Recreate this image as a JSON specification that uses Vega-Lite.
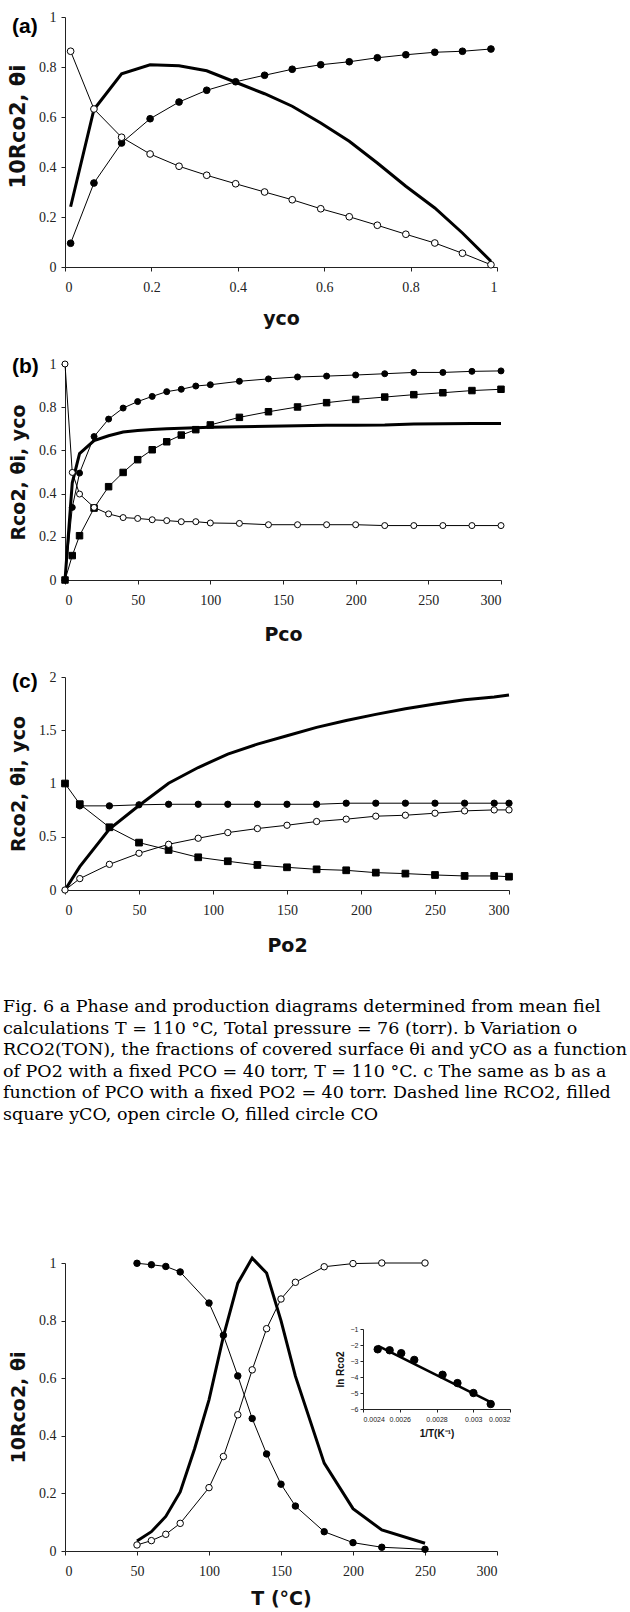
{
  "$schema": "https://vega.github.io/schema/vega-lite/v6.json",
  "autosize": {"type": "pad"},
  "padding": {"left": 3, "top": 10, "right": 0, "bottom": 0},
  "background": "white",
  "spacing": 97,
  "bounds": "flush",
  "config": {
    "view": {"stroke": null},
    "axis": {"grid": false, "domainColor": "#222", "tickColor": "#222", "labelColor": "#222", "labelFont": "Liberation Sans Narrow", "labelFontSize": 14, "titleFont": "DejaVu Sans", "titleFontSize": 19, "titleFontWeight": "bold", "titleColor": "#111", "tickSize": 4, "labelPadding": 5, "titlePadding": 10},
    "axisX": {"labelPadding": 9}
  },
  "datasets": {
    "a": [
      {"s": "CO", "x": 0.013, "y": 0.095}, {"s": "CO", "x": 0.067, "y": 0.336}, {"s": "CO", "x": 0.131, "y": 0.496}, {"s": "CO", "x": 0.197, "y": 0.593}, {"s": "CO", "x": 0.264, "y": 0.66}, {"s": "CO", "x": 0.328, "y": 0.707}, {"s": "CO", "x": 0.395, "y": 0.741}, {"s": "CO", "x": 0.462, "y": 0.767}, {"s": "CO", "x": 0.526, "y": 0.791}, {"s": "CO", "x": 0.592, "y": 0.809}, {"s": "CO", "x": 0.658, "y": 0.821}, {"s": "CO", "x": 0.723, "y": 0.837}, {"s": "CO", "x": 0.789, "y": 0.849}, {"s": "CO", "x": 0.856, "y": 0.859}, {"s": "CO", "x": 0.92, "y": 0.863}, {"s": "CO", "x": 0.986, "y": 0.872},
      {"s": "O", "x": 0.013, "y": 0.863}, {"s": "O", "x": 0.067, "y": 0.632}, {"s": "O", "x": 0.131, "y": 0.519}, {"s": "O", "x": 0.197, "y": 0.452}, {"s": "O", "x": 0.264, "y": 0.403}, {"s": "O", "x": 0.328, "y": 0.367}, {"s": "O", "x": 0.395, "y": 0.333}, {"s": "O", "x": 0.462, "y": 0.3}, {"s": "O", "x": 0.526, "y": 0.269}, {"s": "O", "x": 0.592, "y": 0.233}, {"s": "O", "x": 0.658, "y": 0.201}, {"s": "O", "x": 0.723, "y": 0.167}, {"s": "O", "x": 0.789, "y": 0.131}, {"s": "O", "x": 0.856, "y": 0.096}, {"s": "O", "x": 0.92, "y": 0.055}, {"s": "O", "x": 0.986, "y": 0.009},
      {"s": "R", "x": 0.013, "y": 0.241}, {"s": "R", "x": 0.067, "y": 0.63}, {"s": "R", "x": 0.131, "y": 0.773}, {"s": "R", "x": 0.197, "y": 0.809}, {"s": "R", "x": 0.264, "y": 0.805}, {"s": "R", "x": 0.328, "y": 0.785}, {"s": "R", "x": 0.395, "y": 0.739}, {"s": "R", "x": 0.462, "y": 0.693}, {"s": "R", "x": 0.526, "y": 0.643}, {"s": "R", "x": 0.592, "y": 0.576}, {"s": "R", "x": 0.658, "y": 0.503}, {"s": "R", "x": 0.723, "y": 0.416}, {"s": "R", "x": 0.789, "y": 0.323}, {"s": "R", "x": 0.856, "y": 0.236}, {"s": "R", "x": 0.92, "y": 0.136}, {"s": "R", "x": 0.986, "y": 0.023}
    ],
    "b": [
      {"s": "CO", "x": 0, "y": 0}, {"s": "CO", "x": 5, "y": 0.336}, {"s": "CO", "x": 10, "y": 0.495}, {"s": "CO", "x": 20, "y": 0.664}, {"s": "CO", "x": 30, "y": 0.745}, {"s": "CO", "x": 40, "y": 0.796}, {"s": "CO", "x": 50, "y": 0.826}, {"s": "CO", "x": 60, "y": 0.85}, {"s": "CO", "x": 70, "y": 0.872}, {"s": "CO", "x": 80, "y": 0.883}, {"s": "CO", "x": 90, "y": 0.898}, {"s": "CO", "x": 100, "y": 0.904}, {"s": "CO", "x": 120, "y": 0.92}, {"s": "CO", "x": 140, "y": 0.931}, {"s": "CO", "x": 160, "y": 0.94}, {"s": "CO", "x": 180, "y": 0.944}, {"s": "CO", "x": 200, "y": 0.949}, {"s": "CO", "x": 220, "y": 0.955}, {"s": "CO", "x": 240, "y": 0.961}, {"s": "CO", "x": 260, "y": 0.961}, {"s": "CO", "x": 280, "y": 0.966}, {"s": "CO", "x": 300, "y": 0.968},
      {"s": "Y", "x": 0, "y": 0}, {"s": "Y", "x": 5, "y": 0.113}, {"s": "Y", "x": 10, "y": 0.205}, {"s": "Y", "x": 20, "y": 0.333}, {"s": "Y", "x": 30, "y": 0.432}, {"s": "Y", "x": 40, "y": 0.498}, {"s": "Y", "x": 50, "y": 0.557}, {"s": "Y", "x": 60, "y": 0.603}, {"s": "Y", "x": 70, "y": 0.64}, {"s": "Y", "x": 80, "y": 0.671}, {"s": "Y", "x": 90, "y": 0.696}, {"s": "Y", "x": 100, "y": 0.718}, {"s": "Y", "x": 120, "y": 0.753}, {"s": "Y", "x": 140, "y": 0.779}, {"s": "Y", "x": 160, "y": 0.801}, {"s": "Y", "x": 180, "y": 0.821}, {"s": "Y", "x": 200, "y": 0.836}, {"s": "Y", "x": 220, "y": 0.847}, {"s": "Y", "x": 240, "y": 0.858}, {"s": "Y", "x": 260, "y": 0.867}, {"s": "Y", "x": 280, "y": 0.877}, {"s": "Y", "x": 300, "y": 0.883},
      {"s": "O", "x": 0, "y": 1.0}, {"s": "O", "x": 5, "y": 0.498}, {"s": "O", "x": 10, "y": 0.398}, {"s": "O", "x": 20, "y": 0.336}, {"s": "O", "x": 30, "y": 0.306}, {"s": "O", "x": 40, "y": 0.289}, {"s": "O", "x": 50, "y": 0.285}, {"s": "O", "x": 60, "y": 0.279}, {"s": "O", "x": 70, "y": 0.275}, {"s": "O", "x": 80, "y": 0.27}, {"s": "O", "x": 90, "y": 0.27}, {"s": "O", "x": 100, "y": 0.264}, {"s": "O", "x": 120, "y": 0.262}, {"s": "O", "x": 140, "y": 0.256}, {"s": "O", "x": 160, "y": 0.256}, {"s": "O", "x": 180, "y": 0.256}, {"s": "O", "x": 200, "y": 0.256}, {"s": "O", "x": 220, "y": 0.252}, {"s": "O", "x": 240, "y": 0.252}, {"s": "O", "x": 260, "y": 0.252}, {"s": "O", "x": 280, "y": 0.252}, {"s": "O", "x": 300, "y": 0.252},
      {"s": "R", "x": 0, "y": 0}, {"s": "R", "x": 5, "y": 0.45}, {"s": "R", "x": 10, "y": 0.585}, {"s": "R", "x": 20, "y": 0.645}, {"s": "R", "x": 30, "y": 0.668}, {"s": "R", "x": 40, "y": 0.685}, {"s": "R", "x": 50, "y": 0.692}, {"s": "R", "x": 60, "y": 0.697}, {"s": "R", "x": 70, "y": 0.7}, {"s": "R", "x": 80, "y": 0.703}, {"s": "R", "x": 90, "y": 0.705}, {"s": "R", "x": 100, "y": 0.707}, {"s": "R", "x": 120, "y": 0.71}, {"s": "R", "x": 140, "y": 0.712}, {"s": "R", "x": 160, "y": 0.714}, {"s": "R", "x": 180, "y": 0.716}, {"s": "R", "x": 200, "y": 0.717}, {"s": "R", "x": 220, "y": 0.718}, {"s": "R", "x": 240, "y": 0.722}, {"s": "R", "x": 260, "y": 0.723}, {"s": "R", "x": 280, "y": 0.724}, {"s": "R", "x": 300, "y": 0.724}
    ],
    "c": [
      {"s": "CO", "x": 10, "y": 0.79}, {"s": "CO", "x": 30, "y": 0.79}, {"s": "CO", "x": 50, "y": 0.8}, {"s": "CO", "x": 70, "y": 0.805}, {"s": "CO", "x": 90, "y": 0.805}, {"s": "CO", "x": 110, "y": 0.805}, {"s": "CO", "x": 130, "y": 0.805}, {"s": "CO", "x": 150, "y": 0.805}, {"s": "CO", "x": 170, "y": 0.805}, {"s": "CO", "x": 190, "y": 0.815}, {"s": "CO", "x": 210, "y": 0.815}, {"s": "CO", "x": 230, "y": 0.815}, {"s": "CO", "x": 250, "y": 0.815}, {"s": "CO", "x": 270, "y": 0.815}, {"s": "CO", "x": 290, "y": 0.815}, {"s": "CO", "x": 300, "y": 0.815},
      {"s": "Y", "x": 0, "y": 1.0}, {"s": "Y", "x": 10, "y": 0.806}, {"s": "Y", "x": 30, "y": 0.589}, {"s": "Y", "x": 50, "y": 0.445}, {"s": "Y", "x": 70, "y": 0.376}, {"s": "Y", "x": 90, "y": 0.307}, {"s": "Y", "x": 110, "y": 0.27}, {"s": "Y", "x": 130, "y": 0.235}, {"s": "Y", "x": 150, "y": 0.213}, {"s": "Y", "x": 170, "y": 0.194}, {"s": "Y", "x": 190, "y": 0.185}, {"s": "Y", "x": 210, "y": 0.163}, {"s": "Y", "x": 230, "y": 0.154}, {"s": "Y", "x": 250, "y": 0.141}, {"s": "Y", "x": 270, "y": 0.132}, {"s": "Y", "x": 290, "y": 0.132}, {"s": "Y", "x": 300, "y": 0.125},
      {"s": "O", "x": 0, "y": 0}, {"s": "O", "x": 10, "y": 0.107}, {"s": "O", "x": 30, "y": 0.241}, {"s": "O", "x": 50, "y": 0.345}, {"s": "O", "x": 70, "y": 0.429}, {"s": "O", "x": 90, "y": 0.486}, {"s": "O", "x": 110, "y": 0.539}, {"s": "O", "x": 130, "y": 0.577}, {"s": "O", "x": 150, "y": 0.608}, {"s": "O", "x": 170, "y": 0.643}, {"s": "O", "x": 190, "y": 0.665}, {"s": "O", "x": 210, "y": 0.693}, {"s": "O", "x": 230, "y": 0.702}, {"s": "O", "x": 250, "y": 0.721}, {"s": "O", "x": 270, "y": 0.743}, {"s": "O", "x": 290, "y": 0.752}, {"s": "O", "x": 300, "y": 0.752},
      {"s": "R", "x": 0, "y": 0}, {"s": "R", "x": 10, "y": 0.219}, {"s": "R", "x": 30, "y": 0.571}, {"s": "R", "x": 50, "y": 0.793}, {"s": "R", "x": 70, "y": 1.003}, {"s": "R", "x": 90, "y": 1.15}, {"s": "R", "x": 110, "y": 1.276}, {"s": "R", "x": 130, "y": 1.37}, {"s": "R", "x": 150, "y": 1.448}, {"s": "R", "x": 170, "y": 1.527}, {"s": "R", "x": 190, "y": 1.592}, {"s": "R", "x": 210, "y": 1.649}, {"s": "R", "x": 230, "y": 1.702}, {"s": "R", "x": 250, "y": 1.746}, {"s": "R", "x": 270, "y": 1.787}, {"s": "R", "x": 290, "y": 1.812}, {"s": "R", "x": 300, "y": 1.831}
    ],
    "d": [
      {"s": "CO", "x": 50, "y": 0.999}, {"s": "CO", "x": 60, "y": 0.994}, {"s": "CO", "x": 70, "y": 0.988}, {"s": "CO", "x": 80, "y": 0.969}, {"s": "CO", "x": 100, "y": 0.861}, {"s": "CO", "x": 110, "y": 0.749}, {"s": "CO", "x": 120, "y": 0.608}, {"s": "CO", "x": 130, "y": 0.46}, {"s": "CO", "x": 140, "y": 0.337}, {"s": "CO", "x": 150, "y": 0.232}, {"s": "CO", "x": 160, "y": 0.156}, {"s": "CO", "x": 180, "y": 0.067}, {"s": "CO", "x": 200, "y": 0.029}, {"s": "CO", "x": 220, "y": 0.013}, {"s": "CO", "x": 250, "y": 0.006},
      {"s": "O", "x": 50, "y": 0.021}, {"s": "O", "x": 60, "y": 0.036}, {"s": "O", "x": 70, "y": 0.058}, {"s": "O", "x": 80, "y": 0.096}, {"s": "O", "x": 100, "y": 0.22}, {"s": "O", "x": 110, "y": 0.328}, {"s": "O", "x": 120, "y": 0.473}, {"s": "O", "x": 130, "y": 0.629}, {"s": "O", "x": 140, "y": 0.772}, {"s": "O", "x": 150, "y": 0.875}, {"s": "O", "x": 160, "y": 0.933}, {"s": "O", "x": 180, "y": 0.987}, {"s": "O", "x": 200, "y": 0.998}, {"s": "O", "x": 220, "y": 1.0}, {"s": "O", "x": 250, "y": 1.0},
      {"s": "R", "x": 50, "y": 0.035}, {"s": "R", "x": 60, "y": 0.067}, {"s": "R", "x": 70, "y": 0.12}, {"s": "R", "x": 80, "y": 0.205}, {"s": "R", "x": 90, "y": 0.355}, {"s": "R", "x": 100, "y": 0.525}, {"s": "R", "x": 110, "y": 0.745}, {"s": "R", "x": 120, "y": 0.93}, {"s": "R", "x": 130, "y": 1.017}, {"s": "R", "x": 140, "y": 0.965}, {"s": "R", "x": 150, "y": 0.8}, {"s": "R", "x": 160, "y": 0.607}, {"s": "R", "x": 180, "y": 0.305}, {"s": "R", "x": 200, "y": 0.147}, {"s": "R", "x": 220, "y": 0.073}, {"s": "R", "x": 250, "y": 0.027}
    ],
    "ins": [
      {"s": "pt", "ix": 0.00248, "iy": -2.27}, {"s": "pt", "ix": 0.002545, "iy": -2.33}, {"s": "pt", "ix": 0.002608, "iy": -2.51}, {"s": "pt", "ix": 0.002679, "iy": -2.93}, {"s": "pt", "ix": 0.002833, "iy": -3.86}, {"s": "pt", "ix": 0.002914, "iy": -4.38}, {"s": "pt", "ix": 0.003001, "iy": -5.0}, {"s": "pt", "ix": 0.003095, "iy": -5.69},
      {"s": "fit", "ix": 0.002482, "iy": -2.05}, {"s": "fit", "ix": 0.0031, "iy": -5.6}
    ]
  },
  "vconcat": [
    {
      "width": 432, "height": 250,
      "title": {"text": "(a)", "anchor": "start", "frame": "group", "orient": "top", "offset": 0, "dx": -53, "dy": 44, "baseline": "alphabetic", "font": "Liberation Sans", "fontSize": 21, "fontWeight": "bold", "color": "black"},
      "data": {"name": "a"},
      "encoding": {
        "x": {"field": "x", "type": "quantitative", "scale": {"domain": [0, 1], "nice": false, "zero": false}, "axis": {"title": "yᴄᴏ", "values": [0, 0.2, 0.4, 0.6, 0.8, 1], "format": "~r", "titlePadding": 15}},
        "y": {"field": "y", "type": "quantitative", "scale": {"domain": [0, 1], "nice": false}, "axis": {"title": "10Rᴄᴏ2, θi", "titleFontSize": 21, "values": [0, 0.2, 0.4, 0.6, 0.8, 1], "format": "~r", "titleY": 109}}
      },
      "layer": [
        {"transform": [{"filter": "datum.s == 'R'"}], "mark": {"type": "line", "color": "black", "strokeWidth": 3}},
        {"transform": [{"filter": "datum.s != 'R'"}], "mark": {"type": "line", "color": "black", "strokeWidth": 1}, "encoding": {"detail": {"field": "s"}}},
        {"transform": [{"filter": "datum.s == 'CO'"}], "mark": {"type": "point", "shape": "circle", "filled": true, "fill": "black", "stroke": "black", "strokeWidth": 1, "size": 45, "opacity": 1}},
        {"transform": [{"filter": "datum.s == 'O'"}], "mark": {"type": "point", "shape": "circle", "filled": true, "fill": "white", "stroke": "black", "strokeWidth": 1, "size": 45, "opacity": 1}}
      ]
    },
    {
      "width": 436, "height": 216,
      "title": {"text": "(b)", "anchor": "start", "frame": "group", "orient": "top", "offset": 0, "dx": -53, "dy": 37, "baseline": "alphabetic", "font": "Liberation Sans", "fontSize": 21, "fontWeight": "bold", "color": "black"},
      "data": {"name": "b"},
      "encoding": {
        "x": {"field": "x", "type": "quantitative", "scale": {"domain": [0, 300], "nice": false, "zero": false}, "axis": {"title": "Pᴄᴏ", "values": [0, 50, 100, 150, 200, 250, 300], "format": "~r", "titlePadding": 18}},
        "y": {"field": "y", "type": "quantitative", "scale": {"domain": [0, 1], "nice": false}, "axis": {"title": "Rᴄᴏ2, θi, yᴄᴏ", "values": [0, 0.2, 0.4, 0.6, 0.8, 1], "format": "~r"}}
      },
      "layer": [
        {"transform": [{"filter": "datum.s == 'R'"}], "mark": {"type": "line", "color": "black", "strokeWidth": 3}},
        {"transform": [{"filter": "datum.s != 'R'"}], "mark": {"type": "line", "color": "black", "strokeWidth": 1}, "encoding": {"detail": {"field": "s"}}},
        {"transform": [{"filter": "datum.s == 'CO'"}], "mark": {"type": "point", "shape": "circle", "filled": true, "fill": "black", "stroke": "black", "strokeWidth": 1, "size": 36, "opacity": 1}},
        {"transform": [{"filter": "datum.s == 'Y'"}], "mark": {"type": "point", "shape": "square", "filled": true, "fill": "black", "stroke": "black", "strokeWidth": 1, "size": 42, "opacity": 1}},
        {"transform": [{"filter": "datum.s == 'O'"}], "mark": {"type": "point", "shape": "circle", "filled": true, "fill": "white", "stroke": "black", "strokeWidth": 1, "size": 36, "opacity": 1}}
      ]
    },
    {
      "width": 444, "height": 213,
      "title": {"text": "(c)", "anchor": "start", "frame": "group", "orient": "top", "offset": 0, "dx": -53, "dy": 39, "baseline": "alphabetic", "font": "Liberation Sans", "fontSize": 21, "fontWeight": "bold", "color": "black"},
      "data": {"name": "c"},
      "encoding": {
        "x": {"field": "x", "type": "quantitative", "scale": {"domain": [0, 300], "nice": false, "zero": false}, "axis": {"title": "Pᴏ2", "values": [0, 50, 100, 150, 200, 250, 300], "format": "~r", "titlePadding": 19}},
        "y": {"field": "y", "type": "quantitative", "scale": {"domain": [0, 2], "nice": false}, "axis": {"title": "Rᴄᴏ2, θi, yᴄᴏ", "values": [0, 0.5, 1, 1.5, 2], "format": "~r"}}
      },
      "layer": [
        {"transform": [{"filter": "datum.s == 'R'"}], "mark": {"type": "line", "color": "black", "strokeWidth": 3}},
        {"transform": [{"filter": "datum.s != 'R'"}], "mark": {"type": "line", "color": "black", "strokeWidth": 1}, "encoding": {"detail": {"field": "s"}}},
        {"transform": [{"filter": "datum.s == 'CO'"}], "mark": {"type": "point", "shape": "circle", "filled": true, "fill": "black", "stroke": "black", "strokeWidth": 1, "size": 40, "opacity": 1}},
        {"transform": [{"filter": "datum.s == 'Y'"}], "mark": {"type": "point", "shape": "square", "filled": true, "fill": "black", "stroke": "black", "strokeWidth": 1, "size": 45, "opacity": 1}},
        {"transform": [{"filter": "datum.s == 'O'"}], "mark": {"type": "point", "shape": "circle", "filled": true, "fill": "white", "stroke": "black", "strokeWidth": 1, "size": 40, "opacity": 1}}
      ]
    },
    {
      "width": 432, "height": 179,
      "data": {"values": []},
      "mark": "point",
      "title": {"text": ["Fig. 6  a Phase and production diagrams determined from mean fiel", "calculations T = 110 °C, Total pressure = 76 (torr). b Variation o", "RCO2(TON), the fractions of covered surface θi and yCO as a function", "of PO2 with a fixed PCO = 40 torr, T = 110 °C. c The same as b as a", "function of PCO with a fixed PO2 = 40 torr. Dashed line RCO2, filled", "square yCO, open circle O, filled circle CO"], "anchor": "start", "frame": "group", "orient": "top", "offset": 0, "dx": -62, "dy": 150, "baseline": "alphabetic", "font": "DejaVu Serif", "fontSize": 17.5, "fontWeight": "normal", "lineHeight": 21.5, "color": "black", "limit": 627}
    },
    {
      "width": 432, "height": 288,
      "layer": [
        {
          "data": {"name": "d"},
          "encoding": {
            "x": {"field": "x", "type": "quantitative", "scale": {"domain": [0, 300], "nice": false, "zero": false}, "axis": {"title": "T (°C)", "values": [0, 50, 100, 150, 200, 250, 300], "format": "~r", "titlePadding": 11}},
            "y": {"field": "y", "type": "quantitative", "scale": {"domain": [0, 1], "nice": false}, "axis": {"title": "10Rᴄᴏ2, θi", "values": [0, 0.2, 0.4, 0.6, 0.8, 1], "format": "~r"}}
          },
          "layer": [
            {"transform": [{"filter": "datum.s == 'R'"}], "mark": {"type": "line", "color": "black", "strokeWidth": 3}},
            {"transform": [{"filter": "datum.s != 'R'"}], "mark": {"type": "line", "color": "black", "strokeWidth": 1}, "encoding": {"detail": {"field": "s"}}},
            {"transform": [{"filter": "datum.s == 'CO'"}], "mark": {"type": "point", "shape": "circle", "filled": true, "fill": "black", "stroke": "black", "strokeWidth": 1, "size": 42, "opacity": 1}},
            {"transform": [{"filter": "datum.s == 'O'"}], "mark": {"type": "point", "shape": "circle", "filled": true, "fill": "white", "stroke": "black", "strokeWidth": 1, "size": 42, "opacity": 1}}
          ]
        },
        {
          "data": {"name": "ins"},
          "encoding": {
            "x": {"field": "ix", "type": "quantitative", "scale": {"domain": [0.0024, 0.0032], "range": [298, 445], "nice": false, "zero": false}, "axis": {"orient": "bottom", "offset": -142, "title": "1/T(K⁻¹)", "values": [0.0024, 0.0026, 0.0028, 0.003, 0.0032], "format": "~r", "labelFont": "Liberation Sans", "labelFontSize": 7, "labelPadding": 3, "tickSize": 3, "titleFont": "Liberation Sans", "titleFontSize": 10, "titlePadding": 6}},
            "y": {"field": "iy", "type": "quantitative", "scale": {"domain": [-6, -1], "range": [146, 66], "nice": false, "zero": false}, "axis": {"orient": "left", "offset": -298, "title": "ln Rᴄᴏ2", "values": [-6, -5, -4, -3, -2, -1], "format": "~r", "labelFont": "Liberation Sans", "labelFontSize": 7, "labelPadding": 2, "tickSize": 3, "titleFont": "Liberation Sans", "titleFontSize": 10, "titlePadding": 5}}
          },
          "layer": [
            {"transform": [{"filter": "datum.s == 'fit'"}], "mark": {"type": "line", "color": "black", "strokeWidth": 2.5}},
            {"transform": [{"filter": "datum.s == 'pt'"}], "mark": {"type": "point", "shape": "circle", "filled": true, "fill": "black", "stroke": "black", "strokeWidth": 1, "size": 55, "opacity": 1}}
          ]
        }
      ],
      "resolve": {"scale": {"x": "independent", "y": "independent"}, "axis": {"x": "independent", "y": "independent"}}
    }
  ]
}
